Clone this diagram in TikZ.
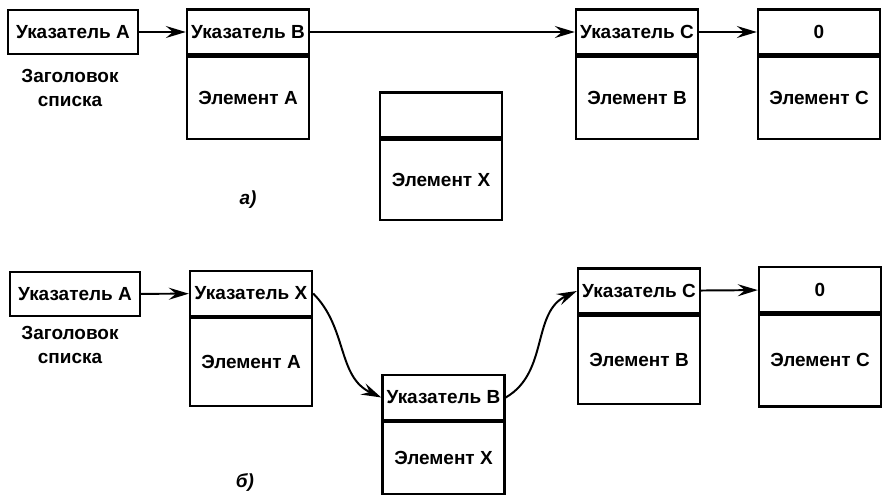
\documentclass[tikz,border=0pt]{standalone}
\usepackage{fontspec}
\setmainfont{Liberation Sans}
\usepackage{tikz}
\usetikzlibrary{positioning}
\usetikzlibrary{arrows.meta}

\begin{document}
\begin{tikzpicture}[
        font=\fontsize{13.5}{16}\selectfont\bfseries,
        head-node/.style={rectangle,draw,line width=1.7pt,minimum width=3.25cm,minimum height=1.1cm,inner sep=0pt},
        ptr-node/.style={rectangle,draw,line width=1.7pt,minimum width=3.05cm,minimum height=1.12cm,inner sep=0pt},
        elem-node/.style={rectangle,draw,line width=1.7pt,minimum width=3.05cm,minimum height=2.05cm,inner sep=0pt},
        link/.style={line width=1.4pt,-{Stealth[length=5mm,width=3mm,inset=1.8mm]}},
        note/.style={align=center,font=\fontsize{13.5}{17.5}\selectfont\bfseries}
    ]
        \useasboundingbox (0, 0) rectangle (22.05, -12.35);

        % a) before insertion
        \node[head-node] (hA) at (1.825, -0.8) {Указатель А};
        \node[note] (lbl) at (1.75, -2.2) {Заголовок\\списка};

        \node[ptr-node] (pB) at (6.2, -0.8) {Указатель В};
        \node[elem-node, below=0pt of pB] (eA) {Элемент А};

        \node[ptr-node] (pN) at (11.025, -2.875) {};
        \node[elem-node, below=0pt of pN, minimum height=2cm] (eX) {Элемент Х};

        \node[ptr-node] (pC) at (15.925, -0.8) {Указатель С};
        \node[elem-node, below=0pt of pC] (eB) {Элемент В};

        \node[ptr-node] (p0) at (20.475, -0.8) {0};
        \node[elem-node, below=0pt of p0] (eC) {Элемент С};

        \node[font=\fontsize{13.5}{16}\selectfont\bfseries\itshape] (ta) at (6.2, -5.0) {а)};

        \draw[link] (hA) -- (pB);
        \draw[link] (pB) -- (pC);
        \draw[link] (pC) -- (p0);

        % b) element X linked in after A
        \node[head-node] (hA2) at (1.875, -7.35) {Указатель А};
        \node[note] (lbl2) at (1.75, -8.625) {Заголовок\\списка};

        \node[ptr-node] (pX2) at (6.275, -7.3375) {Указатель Х};
        \node[elem-node, below=0pt of pX2, minimum height=2.2cm] (eA2) {Элемент А};

        \node[ptr-node] (pB2) at (11.0875, -9.9375) {Указатель В};
        \node[elem-node, below=0pt of pB2, minimum height=1.8cm] (eX2) {Элемент Х};

        \node[ptr-node] (pC2) at (15.975, -7.275) {Указатель С};
        \node[elem-node, below=0pt of pC2, minimum height=2.2cm] (eB2) {Элемент В};

        \node[ptr-node] (p02) at (20.5, -7.24) {0};
        \node[elem-node, below=0pt of p02, minimum height=2.3cm] (eC2) {Элемент С};

        \node[font=\fontsize{13.5}{16}\selectfont\bfseries\itshape] (tb) at (6.125, -12.075) {б)};

        \draw[link] (hA2) -- (pX2);
        \draw[link] (pX2.east) to[out=-45, in=155] (pB2.west);
        \draw[link] (pB2.east) to[out=30, in=-155] (pC2.west);
        \draw[link] (pC2) -- (p02);
    \end{tikzpicture}
\end{document}
